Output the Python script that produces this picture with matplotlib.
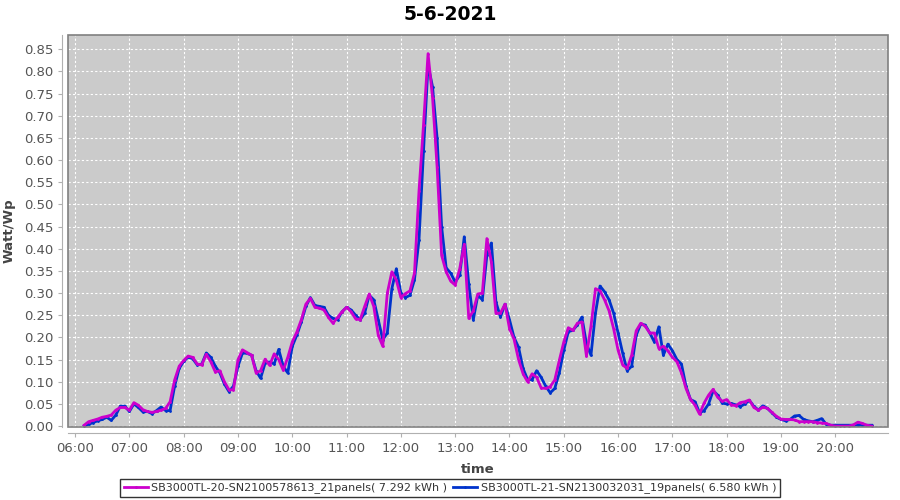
import numpy as np
import matplotlib
matplotlib.use("Agg")
import matplotlib.pyplot as plt
from matplotlib.patches import Rectangle

# 5-minute samples, 06:10 .. 20:40
start_hour = 6 + 10 / 60
step_min = 5

label_a = "SB3000TL-20-SN2100578613_21panels( 7.292 kWh )"
label_b = "SB3000TL-21-SN2130032031_19panels( 6.580 kWh )"

watt_a = [
    # 06:10 - 06:55
    0.002, 0.010, 0.013, 0.016, 0.020, 0.022, 0.025, 0.036, 0.042, 0.042,
    # 07
    0.036, 0.053, 0.047, 0.037, 0.033, 0.031, 0.033, 0.036, 0.040, 0.055, 0.104, 0.135,
    # 08
    0.148, 0.158, 0.155, 0.140, 0.138, 0.162, 0.145, 0.122, 0.125, 0.100, 0.082, 0.082,
    # 09
    0.150, 0.172, 0.166, 0.160, 0.120, 0.125, 0.151, 0.137, 0.163, 0.150, 0.126, 0.155,
    # 10
    0.190, 0.212, 0.240, 0.275, 0.288, 0.268, 0.266, 0.262, 0.245, 0.232, 0.245, 0.258,
    # 11
    0.268, 0.258, 0.242, 0.240, 0.270, 0.298, 0.270, 0.205, 0.180, 0.300, 0.348, 0.329,
    # 12
    0.290, 0.299, 0.305, 0.345, 0.530, 0.680, 0.840, 0.740, 0.585, 0.385, 0.348, 0.327,
    # 13
    0.318, 0.355, 0.410, 0.243, 0.260, 0.298, 0.300, 0.423, 0.370, 0.254, 0.255, 0.275,
    # 14
    0.220, 0.196, 0.150, 0.118, 0.100, 0.118, 0.110, 0.086, 0.085, 0.089, 0.104, 0.148,
    # 15
    0.190, 0.222, 0.216, 0.232, 0.235, 0.158, 0.225, 0.310, 0.305, 0.285, 0.260, 0.220,
    # 16
    0.171, 0.138, 0.130, 0.160, 0.215, 0.232, 0.225, 0.210, 0.210, 0.175, 0.180, 0.170,
    # 17
    0.155, 0.145, 0.120, 0.085, 0.060, 0.047, 0.027, 0.052, 0.070, 0.083, 0.065, 0.056,
    # 18
    0.060, 0.048, 0.046, 0.053, 0.055, 0.059, 0.042, 0.036, 0.043, 0.040, 0.031, 0.022,
    # 19
    0.016, 0.015, 0.015, 0.014, 0.010, 0.010, 0.010, 0.010, 0.008, 0.007, 0.006, 0.002,
    # 20:00 - 20:40
    0.000, 0.000, 0.000, 0.000, 0.003, 0.009, 0.006, 0.002, 0.000,
]

watt_b = [
    # 06:10 - 06:55
    0.000, 0.004, 0.008, 0.012, 0.015, 0.020, 0.013, 0.025, 0.045, 0.045,
    # 07
    0.033, 0.050, 0.042, 0.032, 0.033, 0.028, 0.035, 0.043, 0.035, 0.035, 0.090, 0.130,
    # 08
    0.146, 0.156, 0.152, 0.138, 0.140, 0.165, 0.155, 0.135, 0.120, 0.095, 0.078, 0.090,
    # 09
    0.135, 0.165, 0.164, 0.160, 0.125, 0.108, 0.142, 0.145, 0.140, 0.173, 0.135, 0.120,
    # 10
    0.180, 0.205, 0.235, 0.270, 0.290, 0.272, 0.270, 0.268, 0.250, 0.243, 0.240, 0.258,
    # 11
    0.268, 0.262, 0.250, 0.240, 0.255, 0.295, 0.285, 0.240, 0.195, 0.210, 0.310, 0.355,
    # 12
    0.300, 0.290, 0.295, 0.330, 0.420, 0.620, 0.815, 0.765, 0.650, 0.450, 0.357, 0.345,
    # 13
    0.325, 0.340, 0.427, 0.320, 0.240, 0.295, 0.285, 0.385, 0.413, 0.280, 0.246, 0.275,
    # 14
    0.240, 0.200, 0.178, 0.130, 0.105, 0.105, 0.125, 0.110, 0.090, 0.075, 0.085, 0.120,
    # 15
    0.171, 0.213, 0.216, 0.228, 0.246, 0.186, 0.160, 0.255, 0.316, 0.303, 0.285, 0.255,
    # 16
    0.210, 0.165, 0.125, 0.135, 0.205, 0.230, 0.228, 0.210, 0.190, 0.224, 0.160, 0.185,
    # 17
    0.170, 0.150, 0.140, 0.090, 0.060, 0.055, 0.030, 0.035, 0.050, 0.080, 0.070, 0.052,
    # 18
    0.050, 0.051, 0.048, 0.044, 0.050, 0.058, 0.045, 0.036, 0.046, 0.040, 0.030, 0.020,
    # 19
    0.015, 0.012, 0.015, 0.023, 0.024, 0.015, 0.012, 0.010, 0.013, 0.017, 0.004, 0.002,
    # 20:00 - 20:40
    0.002, 0.002, 0.002, 0.002, 0.002, 0.002, 0.002, 0.002, 0.002,
]

hour_ticks = list(range(6, 21))
hour_labels = [f"{h:02d}:00" for h in hour_ticks]

t = start_hour + np.arange(len(watt_a)) * step_min / 60

fig = plt.figure(figsize=(9, 5), dpi=100)
ax = fig.add_axes([68 / 900, 1 - 427 / 500, 820 / 900, 392 / 500])
ax.set_facecolor("#cbcbcb")

ax.plot(t, watt_a, color="#cc00cc", lw=2, marker=".", ms=2, label=label_a, zorder=3)
ax.plot(t, watt_b, color="#0033cc", lw=2, marker=".", ms=2, label=label_b, zorder=2)

ax.set_xlim(5.87, 20.97)
ax.set_ylim(-0.002, 0.882)
ax.set_xticks(hour_ticks)
ax.set_xticklabels(hour_labels)
ax.set_yticks(np.arange(0, 0.851, 0.05))
ax.yaxis.set_major_formatter(matplotlib.ticker.FormatStrFormatter("%.2f"))

ax.grid(True, color="white", ls=(0, (2, 2)), lw=0.8)
ax.set_axisbelow(True)

for s in ["top", "right"]:
    ax.spines[s].set_visible(False)
for s in ["left", "bottom"]:
    ax.spines[s].set_position(("outward", 4))
    ax.spines[s].set_color("#b0b0b0")
ax.add_patch(Rectangle((0, 0), 1, 1, transform=ax.transAxes, fill=False,
                       edgecolor="#808080", lw=1.2, clip_on=False, zorder=5))

ax.tick_params(colors="#b0b0b0", labelcolor="#555555", labelsize=9.5, length=3)

ax.set_xlabel("time", fontsize=9.5, fontweight="bold", color="#444444", labelpad=6)
ax.set_ylabel("Watt/Wp", fontsize=9.5, fontweight="bold", color="#444444", labelpad=6)
fig.text(0.5, 0.97, "5-6-2021", ha="center", va="center", fontsize=13.5, fontweight="bold")

leg = fig.legend(loc="center", bbox_to_anchor=(0.5, 1 - 488 / 500), ncol=2,
                 frameon=True, fancybox=False, fontsize=8, handlelength=2.2,
                 handletextpad=0.3, columnspacing=0.5, borderpad=0.3)
leg.get_frame().set_edgecolor("black")
leg.get_frame().set_linewidth(1)
for txt in leg.get_texts():
    txt.set_color("#333333")

fig.savefig("out.png", dpi=100)
